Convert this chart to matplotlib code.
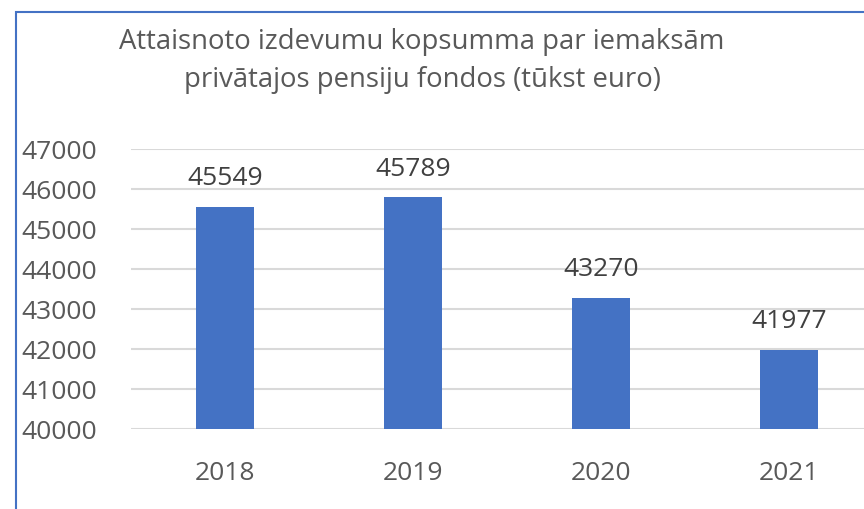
import matplotlib.pyplot as plt
from matplotlib.patches import Rectangle

# dati
years = ['2018', '2019', '2020', '2021']
values = [45549, 45789, 43270, 41977]
yticks = [40000, 41000, 42000, 43000, 44000, 45000, 46000, 47000]
title = 'Attaisnoto izdevumu kopsumma par iemaksām\nprivātajos pensiju fondos (tūkst euro)'

plt.rcParams['font.family'] = ['Open Sans', 'DejaVu Sans']

fig = plt.figure(figsize=(8.64, 5.10), dpi=100)

# zilais rāmis (diagrammas apgabals, apgriezts)
fig.patches.append(Rectangle((16/864, -0.1), 1.2, 1 - 13/510 + 0.1,
                             transform=fig.transFigure, fill=False,
                             edgecolor='#4472C4', linewidth=1.5))

ax = fig.add_axes([131/864, 80/510, 752/864, 280/510])
x = range(len(years))
ax.bar(x, values, width=0.31, color='#4472C4', zorder=3)
for i, v in zip(x, values):
    ax.text(i, v + 420, str(v), ha='center', va='bottom', fontsize=19, color='#404040')

ax.set_xlim(-0.5, 3.5)
ax.set_ylim(40000, 47000)
ax.set_yticks(yticks)
ax.set_yticklabels([str(t) for t in yticks], ha='left')
ax.set_xticks(list(x))
ax.set_xticklabels(years)
ax.grid(axis='y', color='#D9D9D9', linewidth=1.5, zorder=0)
for s in ax.spines.values():
    s.set_visible(False)
ax.tick_params(axis='both', length=0, labelsize=19, labelcolor='#595959')
ax.tick_params(axis='y', pad=79)
ax.tick_params(axis='x', pad=22)

fig.text(422/864, 1 - 61/510, title, ha='center', va='center', fontsize=19.8,
         color='#595959', linespacing=1.5)

fig.savefig('out.png', dpi=100)
